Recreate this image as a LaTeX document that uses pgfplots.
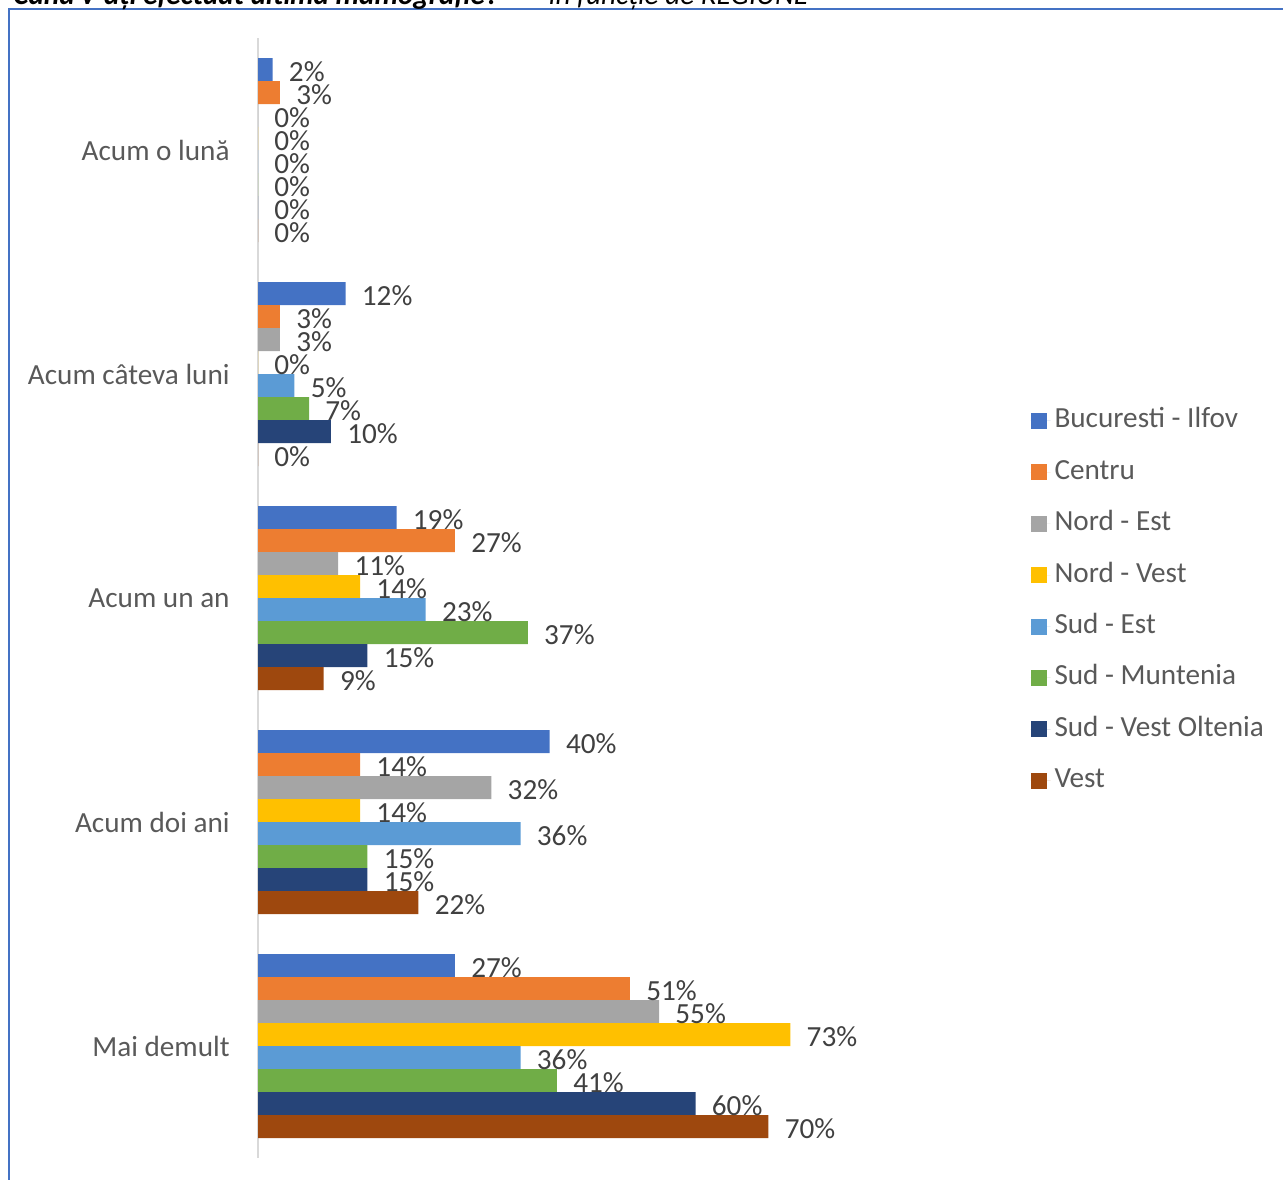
\documentclass[border=0pt]{standalone}
\usepackage{pgfplots}
\pgfplotsset{compat=1.18}
\usepackage{fontspec}
\setmainfont{Carlito}
\definecolor{cA}{HTML}{4472C4}
\definecolor{cB}{HTML}{ED7D31}
\definecolor{cC}{HTML}{A5A5A5}
\definecolor{cD}{HTML}{FFC000}
\definecolor{cE}{HTML}{5B9BD5}
\definecolor{cF}{HTML}{70AD47}
\definecolor{cG}{HTML}{264478}
\definecolor{cH}{HTML}{9E480E}
\definecolor{labcol}{HTML}{595959}
\definecolor{numcol}{HTML}{404040}
\definecolor{framecol}{HTML}{4472C4}
\definecolor{axcol}{HTML}{D9D9D9}
\newcommand{\cfont}{\fontsize{14.6}{17}\selectfont}
\begin{document}
\begin{tikzpicture}
\path[use as bounding box] (0,0) rectangle (641.5pt,-589.5pt);
\clip (0,0) rectangle (641.5pt,-589.5pt);
\draw[framecol, line width=1pt] (4.5pt,-700pt) -- (4.5pt,-4.5pt) -- (700pt,-4.5pt);
\node[anchor=base west, inner sep=0pt, font=\cfont] at (6.5pt,-2pt)
  {\textbf{\textit{Când v-ați efectuat ultima mamografie?}}\quad\textit{– în funcție de REGIUNE}};
\begin{axis}[
  at={(129pt,-579pt)}, anchor=south west,
  scale only axis, width=350pt, height=560pt,
  xbar=0pt, bar width=0.1027,
  xmin=0, xmax=96, ymin=-0.5, ymax=4.5, y dir=reverse,
  axis x line=none, axis y line*=left,
  axis line style={-, draw=axcol, line width=0.75pt},
  ytick={0,1,2,3,4},
  yticklabels={Acum o lună, Acum câteva luni, Acum un an, Acum doi ani, Mai demult},
  major tick length=0pt,
  yticklabel style={font=\cfont, text=labcol, inner sep=0pt, xshift=-14pt},
  /pgf/number format/assume math mode=true,
  point meta=x,
  nodes near coords={\pgfmathprintnumber{\pgfplotspointmeta}\%},
  nodes near coords style={anchor=west, inner sep=0pt, xshift=8pt, yshift=-1pt, font=\cfont, text=numcol},
  legend style={at={(1.103,0.4975)}, anchor=west, draw=none, fill=none, inner sep=0pt,
    font=\cfont, text=labcol, row sep=12.7pt,
    nodes={inner xsep=2pt, inner ysep=0pt, text height=10pt, text depth=3pt}},
  legend cell align=left,
  legend image code/.code={\fill[#1,draw=none] (0pt,-4pt) rectangle (8pt,4pt); \path (0pt,0pt) -- (10pt,0pt);},
]
\addplot[fill=cA, draw=none] coordinates {(2,0) (12,1) (19,2) (40,3) (27,4)};
\addplot[fill=cB, draw=none] coordinates {(3,0) (3,1) (27,2) (14,3) (51,4)};
\addplot[fill=cC, draw=none] coordinates {(0,0) (3,1) (11,2) (32,3) (55,4)};
\addplot[fill=cD, draw=none] coordinates {(0,0) (0,1) (14,2) (14,3) (73,4)};
\addplot[fill=cE, draw=none] coordinates {(0,0) (5,1) (23,2) (36,3) (36,4)};
\addplot[fill=cF, draw=none] coordinates {(0,0) (7,1) (37,2) (15,3) (41,4)};
\addplot[fill=cG, draw=none] coordinates {(0,0) (10,1) (15,2) (15,3) (60,4)};
\addplot[fill=cH, draw=none] coordinates {(0,0) (0,1) (9,2) (22,3) (70,4)};
\legend{Bucuresti - Ilfov, Centru, Nord - Est, Nord - Vest, Sud - Est, Sud - Muntenia, Sud - Vest Oltenia, Vest}
\end{axis}
\end{tikzpicture}
\end{document}
